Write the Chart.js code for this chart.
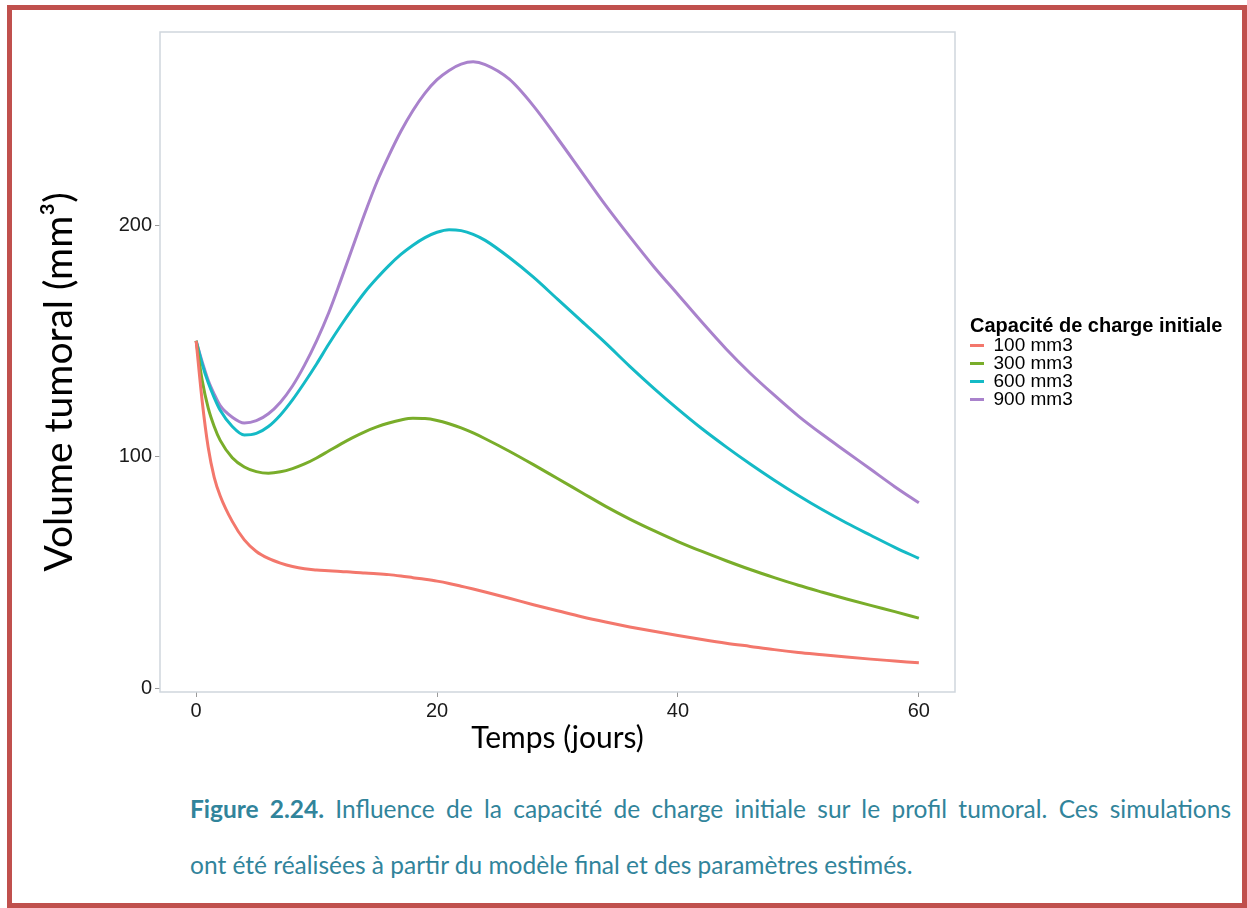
<!DOCTYPE html>
<html>
<head>
<meta charset="utf-8">
<script src="https://cdn.jsdelivr.net/npm/chart.js@4.4.1/dist/chart.umd.min.js"></script>
<style>
  html, body { margin: 0; padding: 0; background: #fff; }
  body { width: 1247px; height: 908px; position: relative; overflow: hidden; }
  #frame { position: absolute; left: 7px; top: 5px; width: 1240px; height: 903px; border: 5px solid #c0504d; box-sizing: border-box; }
  #chartBox { position: absolute; left: 0; top: 0; }
  #caption { position: absolute; left: 190px; top: 781px; width: 1041px; font-family: Lato, "Open Sans", sans-serif; font-size: 24.5px; color: #31849b; line-height: 56px; }
  #caption .l1 { text-align: justify; text-align-last: justify; }
  #caption b { font-weight: bold; }
</style>
</head>
<body>
<div id="frame"></div>
<div id="chartBox"><canvas id="tumourChart" width="1247" height="760"></canvas></div>
<div id="caption">
  <div class="l1"><b>Figure 2.24.</b> Influence de la capacité de charge initiale sur le profil tumoral. Ces simulations</div>
  <div>ont été réalisées à partir du modèle final et des paramètres estimés.</div>
</div>
<script>
// time (jours)
const days = [0, 0.5, 1, 1.5, 2, 3, 4, 5, 6, 7, 8, 9, 10, 11, 12, 13, 14, 15, 16, 17, 18, 19, 20, 21, 22, 23, 24,
              26, 28, 30, 32, 34, 36, 38, 40, 42, 44, 46, 48, 50, 52, 54, 56, 58, 60];

// tumour volume (mm3) for each initial carrying capacity
const cap100 = [150, 124, 104, 91, 83, 72, 64, 59, 56, 54, 52.5, 51.5, 51, 50.7, 50.4, 50, 49.7, 49.4, 49, 48.4, 47.7, 47, 46.2, 45.2, 44, 42.8, 41.5,
                38.8, 36, 33.4, 30.8, 28.5, 26.4, 24.5, 22.7, 21, 19.4, 18, 16.6, 15.4, 14.4, 13.4, 12.5, 11.7, 10.9];
const cap300 = [150, 133, 121, 113, 107, 99.5, 95.5, 93.5, 92.8, 93.4, 94.8, 96.8, 99.4, 102.4, 105.4, 108.2, 110.7, 112.8, 114.5, 115.8, 116.5, 116.4, 115.6, 114.2, 112.4, 110.2, 107.7,
                102.3, 96.5, 90.5, 84.5, 78.5, 73, 68, 63.3, 59, 55, 51.2, 47.7, 44.4, 41.4, 38.5, 35.7, 33, 30.2];
const cap600 = [150, 140, 132, 125.5, 120, 113, 109.3, 110, 113, 118, 124.5, 132, 140, 148.5, 156.5, 164, 171, 177, 182.5, 187.3, 191.3, 194.6, 196.9, 198, 197.6, 196, 193.4,
                186, 177.5, 168, 158.5, 149, 139, 129.5, 120.5, 112, 104.2, 96.8, 89.8, 83.2, 77, 71.3, 66, 60.8, 56];
const cap900 = [150, 141, 133, 127, 122, 117, 114.5, 115.5, 118.5, 123.5, 130.5, 139.5, 150, 162, 176, 190.5, 205, 218.5, 230, 240.5, 249.5, 257, 262.8, 266.8, 269.5, 270.5, 269.3,
                263, 251.5, 237.5, 223, 208.5, 195, 182, 170, 158, 146.5, 136, 126.5, 117.5, 109.5, 102, 94.5, 87, 80];

const seriesLabels = ['100 mm3', '300 mm3', '600 mm3', '900 mm3'];
const seriesColors = ['#f3776c', '#79ad2a', '#14bac6', '#a982cc'];
const xTicks = [0, 20, 40, 60];
const yTicks = [0, 100, 200];

function toPoints(values) {
    return days.map((d, i) => ({ x: d, y: values[i] }));
}

// light frame around the panel, like the ggplot panel border
const panelBorder = {
    id: 'panelBorder',
    beforeDatasetsDraw(chart) {
        const a = chart.chartArea;
        const ctx = chart.ctx;
        ctx.save();
        ctx.strokeStyle = '#cfd6dd';
        ctx.lineWidth = 1.5;
        ctx.strokeRect(a.left, a.top, a.right - a.left, a.bottom - a.top);
        ctx.restore();
    }
};

const tickFont = { family: '"Liberation Sans", Arial, sans-serif', size: 20 };
const nbsp = '\u00a0';

const chart = new Chart(document.getElementById('tumourChart'), {
    type: 'line',
    data: {
        datasets: [cap100, cap300, cap600, cap900].map((vals, i) => ({
            label: seriesLabels[i],
            data: toPoints(vals),
            borderColor: seriesColors[i],
            backgroundColor: seriesColors[i],
            borderWidth: 3,
            pointRadius: 0,
            cubicInterpolationMode: 'monotone',
            fill: false
        }))
    },
    options: {
        responsive: false,
        animation: false,
        layout: { padding: { left: 20, top: 32, right: 15, bottom: 0 } },
        scales: {
            x: {
                type: 'linear',
                min: -3,
                max: 63,
                afterBuildTicks: scale => { scale.ticks = xTicks.map(v => ({ value: v })); },
                afterFit: scale => { scale.height = 68; },
                grid: { drawOnChartArea: false, drawTicks: true, tickLength: 5, color: '#9a9a9a' },
                border: { display: false },
                ticks: { color: '#1a1a1a', font: tickFont, padding: 2 },
                title: { display: true, text: 'Temps (jours)', color: '#000',
                         font: { family: 'Lato, "Open Sans", sans-serif', size: 30 }, padding: { top: 0, bottom: 4 } }
            },
            y: {
                type: 'linear',
                min: -1.7,
                max: 283.4,
                afterBuildTicks: scale => { scale.ticks = yTicks.map(v => ({ value: v })); },
                afterFit: scale => { scale.width = 140; },
                grid: { drawOnChartArea: false, drawTicks: true, tickLength: 5, color: '#9a9a9a' },
                border: { display: false },
                ticks: { color: '#1a1a1a', font: tickFont, padding: 3 },
                title: { display: true, text: 'Volume tumoral (mm³)' + nbsp.repeat(4), color: '#000',
                         font: { family: 'Lato, "Open Sans", sans-serif', size: 39 }, padding: { top: 16, bottom: 0 } }
            },
            // empty strip between the panel and the legend
            gap: {
                type: 'linear',
                position: 'right',
                display: true,
                min: 0,
                max: 1,
                afterFit: scale => { scale.width = 15; },
                grid: { display: false },
                ticks: { display: false },
                border: { display: false }
            }
        },
        plugins: {
            tooltip: { enabled: false },
            legend: {
                position: 'right',
                align: 'center',
                fullSize: false,
                title: {
                    display: true,
                    text: 'Capacité de charge initiale',
                    position: 'start',
                    color: '#000',
                    font: { family: '"Liberation Sans", Arial, sans-serif', size: 20, weight: 'bold', lineHeight: 1.0 },
                    padding: { top: 0, bottom: 1 }
                },
                labels: {
                    usePointStyle: true,
                    pointStyle: 'line',
                    pointStyleWidth: 15,
                    boxHeight: 19,
                    padding: -1,
                    color: '#000',
                    font: { family: '"Liberation Sans", Arial, sans-serif', size: 19 }
                }
            }
        }
    },
    plugins: [panelBorder]
});

// the legend box is sized by its items only; widen it so the title is not clipped
const legendFit = chart.legend.fit;
chart.legend.fit = function () {
    legendFit.call(this);
    this.width = Math.max(this.width, 1247 - 15 - 955 - 15);
};
chart.update();
</script>
</body>
</html>
